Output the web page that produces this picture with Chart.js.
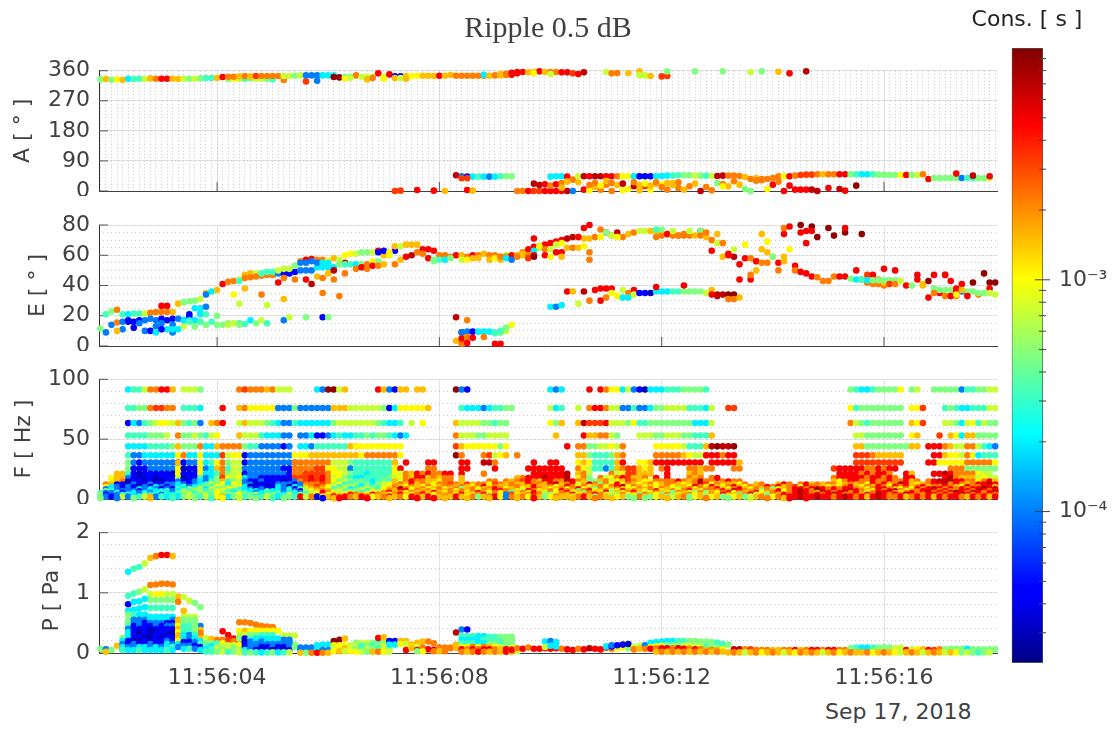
<!DOCTYPE html>
<html>
<head>
<meta charset="utf-8">
<title>Ripple 0.5 dB</title>
<script src="https://cdn.jsdelivr.net/npm/chart.js@4/dist/chart.umd.min.js"></script>
<style>
  body { margin: 0; background: #fff; overflow: hidden; }
  canvas { position: absolute; }
  #date { position: absolute; left: 825px; top: 699px; font: 22px "DejaVu Sans"; color: #404040; }
</style>
</head>
<body>
<canvas id="panelA" width="1003" height="196" style="left:0;top:0"></canvas>
<canvas id="panelE" width="1003" height="146" style="left:0;top:205px"></canvas>
<canvas id="panelF" width="1003" height="139" style="left:0;top:365px"></canvas>
<canvas id="panelP" width="1003" height="171" style="left:0;top:522px"></canvas>
<canvas id="colorbar" width="164" height="680" style="left:945px;top:0"></canvas>
<div id="date">Sep 17, 2018</div>
<script>
// sample times in seconds after 11:56:00, one column of dots per entry
const times = [1.9,2.0,2.1,2.2,2.3,2.4,2.5,2.6,2.7,2.8,2.9,3.0,3.1,3.2,3.3,3.4,3.5,3.6,3.7,3.8,3.9,4.0,4.1,4.2,4.3,4.4,4.5,4.6,4.7,4.8,4.9,5.0,5.1,5.2,5.3,5.4,5.5,5.6,5.7,5.8,5.9,6.0,6.1,6.2,6.3,6.4,6.5,6.6,6.7,6.8,6.9,7.0,7.1,7.2,7.3,7.4,7.5,7.6,7.7,7.8,7.9,8.0,8.1,8.2,8.3,8.4,8.5,8.6,8.7,8.8,8.9,9.0,9.1,9.2,9.3,9.4,9.5,9.6,9.7,9.8,9.9,10.0,10.1,10.2,10.3,10.4,10.5,10.6,10.7,10.8,10.9,11.0,11.1,11.2,11.3,11.4,11.5,11.6,11.7,11.8,11.9,12.0,12.1,12.2,12.3,12.4,12.5,12.6,12.7,12.8,12.9,13.0,13.1,13.2,13.3,13.4,13.5,13.6,13.7,13.8,13.9,14.0,14.1,14.2,14.3,14.4,14.5,14.6,14.7,14.8,14.9,15.0,15.1,15.2,15.3,15.4,15.5,15.6,15.7,15.8,15.9,16.0,16.1,16.2,16.3,16.4,16.5,16.6,16.7,16.8,16.9,17.0,17.1,17.2,17.3,17.4,17.5,17.6,17.7,17.8,17.9,18.0];
const xTicks = [4, 8, 12, 16];
const xTickLabels = ["11:56:04", "11:56:08", "11:56:12", "11:56:16"];

// Cons. in seconds
const consValues = {
  n: 3.0e-5, b: 4.6e-5, s: 1.0e-4, c: 2.0e-4, t: 3.2e-4, g: 4.7e-4, l: 7.2e-4,
  y: 1.04e-3, a: 1.5e-3, o: 2.2e-3, r: 3.3e-3, R: 4.8e-3, d: 6.9e-3, D: 8.9e-3
};
const consMin = 2.2e-5;
const consMax = 1e-2;
const consTicks = [3e-5,4e-5,5e-5,6e-5,7e-5,8e-5,9e-5,1e-4,2e-4,3e-4,4e-4,5e-4,6e-4,7e-4,8e-4,9e-4,1e-3,2e-3,3e-3,4e-3,5e-3,6e-3,7e-3,8e-3,9e-3];
const consTickLabels = { "0.001": "10⁻³", "0.0001": "10⁻⁴" };

// each track: [first column, one letter per dot (. = no dot), value or values]
const aTracks = [
  [0,"gagyacttlaoRRaalglgtta",[334,335,333,334,333,336,335,336,335,337,336,336,336,336,335,336,336,336,337,338,338,338]],
  [23,"gyltgllgt",[335,336,335,336,337,336,336,335,334]],
  [33,"o...r.s",[332,0,0,0,328,0,330]],
  [22,"Rooaoaroooollglsssccc",[341,342,342,343,344,343,344,344,344,344,344,344,344,345,346,346,346,346,346,346,346]],
  [42,"DDtgolllRlRbbayyaaaRaaoooooo",[341,340,341,342,346,342,342,342,352,342,349,343,343,344,344,345,345,345,344,345,345,347,345,345,345,345,345,345]],
  [44,"yl..ao.y.ala",[337,338,0,0,334,338,0,336,0,338,338,336]],
  [69,"caoaoRR",[348,345,346,346,347,348,352]],
  [72,"aoRRRaaRaooRRrRd",[350,351,354,356,356,355,356,358,356,356,356,355,355,352,350,355]],
  [76,"..y..l",[0,0,352,0,0,350]],
  [91,"lo",[356,352]],[93,"o",353],[95,"a",353],[97,"al",[358,345]],[97,"l",346],[98,"l",347],[99,"a",344],
  [101,"rr",[343,344]],[102,"g",358],[107,"g",358],[112,"g",358],[117,"l",355],[119,"g",358],[122,"a",357],[124,"R",352],[127,"d",358],
  [53,"rr",[0,1]],[57,"R",3],[60,"R",1],[62,"a",0],[66,"R",3],[67,"a",1],
  [64,"dsbctcsctgg",[47,44,43,43,43,43,43,43,44,44,44]],[65,"rr",[38,38]],
  [75,"ooRrrRRRRds",[0,0,0,0,0,0,0,0,0,0,0]],
  [78,"dd",[22,18]],[80,"Ro",[20,16]],[82,"Ro",[20,24]],[83,"a",10],
  [81,"ccc",[43,44,44]],[84,"Rol",[43,34,44]],[84,"a",28],[86,"a",26],
  [87,"dRddRRoyyccl",[44,44,44,44,44,44,44,44,44,44,44,44]],
  [97,"bbbcccttgglgtl",[44,44,44,44,45,46,46,47,47,47,46,46,46,45]],
  [111,"ddoooaoaooooyRorrroaooRRgtcctggggyRglo",[45,46,46,46,45,42,36,39,32,36,39,44,44,44,46,48,49,49,50,50,50,50,50,50,50,50,50,50,50,49,49,48,48,48,48,48,48,50,48]],
  [149,"Rgggggsttggl",[36,39,39,39,39,39,39,39,38,38,38,38]],
  [154,"R..d..R",[52,0,0,46,0,0,44]],
  [87,"Ryaooo.yydarya",[4,2,12,4,19,0,4,2,6,14,2,14,4,22]],
  [101,"yoaoaoadoogoa",[19,4,24,9,4,14,22,0,12,2,24,20,14]],[112,"y.oaggoo",[14,0,29,19,6,0,31,36]],
  [120,"yRoRRRRRdd",[6,19,28,0,16,4,4,4,4,0]],[131,"R.dR.D",[9,0,6,1,0,16]],
  [88,"ooyaoad.oa",[18,24,16,30,24,18,22,0,26,18]],[98,"yaooaao",[22,16,26,12,24,18,26]]
];

const eTracks = [
  [0,"gtgo",[11.5,21,23,24]],
  [1,"ssosb",[9,14,15.5,11,16]],
  [3,"a",10],[4,"s",16],
  [4,"tcttlooRRa",[21,21,21.5,21.5,21.5,22,22.5,26.5,26.5,22.5]],
  [5,"bbbsssbbbsbb",[17,16,17,17,18,17,18,17,18,18,17,19]],
  [6,"bssbsscsc",[12,15,10,10,13,15,11,14,11]],
  [10,"cb.s",[9,11,0,9]],
  [13,"c",11],[11,"o",22.5],[12,"o",22.5],
  [14,"aggglacaRoolaal",[28,29,29.6,30,31,35,36,37,41,42.4,43,44,47,48,48]],
  [15,"lblcg",[13,21,13,21,14]],[17,"cc",[25,25]],[19,"s",34],[18,"cs",[22,26]],
  [15,"ccc",[17,17,17]],[16,"t",16],[18,"g",16],[19,"t",21],
  [21,"g",20],
  [25,"toooooo",[43,45,45.5,46,46.5,47,47]],
  [29,"ttt",[48,49,49]],
  [32,"sbbbssscccc",[48,48,48,49,50,50,50,52,52,52,52]],
  [32,"lllg",[50,51,51,53]],[36,"oRRooy",[56,57,57.5,57,57,56.5]],
  [36,"sssscc",[55,55,56,55,55,55]],
  [21,"ggg",[14,14,15]],[17,"gtgt",[13,16,14,16]],[23,"lgt",[14,15,15]],
  [24,"lgtcgl",[15,14,14.5,17,15,17]],[30,"t",15],[33,"sl",[17,19]],[37,"g",19],[40,"bg",[19,19]],
  [24,"y",34],[26,"a",38],[29,"o",34],[25,"l",28],[30,"l",27],[33,"a",31],
  [32,"Ro.o.R",[42,45,0,44,0,44]],[38,"dao",[41,46,35]],[40,"oad",[45,48,50]],[42,"o",44],[43,"od",[33,55]],[44,"o",48],
  [42,"alyylgglRayb",[58,57,60,61,61,62,62,62,63,60,60,63]],
  [43,"gttcgoyg",[54,54,54,54,54,54,56,56]],
  [46,"oRoRoa",[51,52,51,53,53,54]],
  [50,"bbyalaaaRRR",[62,63,62,66,66,67,67,67,64,64,63]],
  [53,"oaRdooRg",[54,57,59,60,62,61,58,56]],
  [61,"oooRaoRoaoooyRoaoo",[60,60,59,60,60,59,60,60,61,60,60,59,60,59,60,60,60,60]],
  [60,"gtcg.lyaa.ayal",[57,57,57,58,0,57,57,58,58,0,57,58,57,60]],
  [72,"ooRaoRRRRRRRddaa",[59,59,60,60,62,64,65.6,66,67,68,69,70,71,72,72,71]],
  [73,"csoaocg",[58,57,59,61,60,63,65]],[77,"rRyolly",[58,60,66,64,64,67,68]],
  [78,"D",59],[80,"R",60],[81,"yR",[59,62]],[83,"R",62],[84,"aoay",[65,65,65,66]],[78,"R",71],[83,"a",59],
  [87,"RR",[78,80]],[88,"o",62],[88,"o",57],[86,"R",72],
  [88,"aoy",[71,72,72]],[90,"oRodoao",[77,75,73,75,72,74,75]],[91,"gly",[75,73,72]],
  [97,"llaaaoRoo",[76,76,76,76,74,74,74,73,74]],[100,"ooRooooaD",[72,73,74,73,73,73,73,73,76]],[100,"tg.l..l.g",[77,77,0,76,0,0,76,0,76]],
  [108,"oa",[73,72]],[109,"o",75],[110,"ol",[70,68]],[110,"R",63],[111,"aoR",[74,68,61]],[112,"a",59],[113,"Rl",[60,64]],
  [114,"dR",[59,44]],[115,"RyR",[54,67,44]],[116,"Roa",[58,47,56]],[117,"oaay",[58,50,64,69]],[118,"Ra",[56,74]],
  [119,"oa",[55,62]],[120,"oa",[55,59]],[121,"goR",[59,50,74]],[122,"Ro",[55,78]],[123,"aR",[59,79]],[123,"a",56],
  [124,"yR",[64,53]],[125,"oR",[50,75]],[126,"RR",[49,68]],[126,"D",80],[127,"RD",[48,79]],[127,"R",76],[128,"RD",[46,72]],[128,"R",76],
  [129,"o",45.5],[130,"oD",[43,78]],[131,"oD",[43,73]],[132,"o",46],[133,"RD",[46,75]],[134,"R",46],[134,"R",78],
  [135,"gRoo",[44.5,50,44,42]],[136,"cDoo",[44,74,42,41]],[137,"troo",[44,47,42,41]],[138,"cRoo",[43.5,47,41,40]],[139,"goaa",[43.5,44,42,41]],
  [140,"gggg",[43.5,43.5,43.5,43.5]],[141,"Rro",[51,41,41]],[143,"R",50],[144,"l",43],[145,"R",40],[146,"gR",[40,44]],[147,"Ra",[47,41]],
  [148,"aD",[40,43]],[149,"RR",[32,47]],[150,"gRo",[38,35,47]],[151,"gRo",[37,47,33]],[152,"gR",[37,43]],[153,"gR",[37,38]],[154,"oR",[33,41]],
  [155,"sR",[36,35]],[156,"gD",[36,42]],[157,"go",[36,34]],[158,"gDD",[35,48,42]],[159,"gR",[35,38]],[160,"lD",[35,42]],[161,"ll",[34,35]],
  [150,"o.oRR",[35,0,33,33,36]],[154,"yaR",[34,37,33]],
  [64,"dDo",[19,9,17]],[65,"ssbcccct",[9,9.5,9.5,9.5,9.5,9.5,9,9]],[71,"tgly",[8.5,9,10,14]],[73,"g",12],[72,"t",10],
  [64,"ao",[3.5,1.5]],[65,"Ro",[5,6]],[66,"RR",[2,5.5]],[69,"o",6],[71,"RR",[1.5,1.5]],
  [81,"csc",[26,26,27]],[84,"Ra",[36,36]],[86,"l",28],[87,"d",36],[88,"oRRRR",[30,37,38,38,38]],[90,"R",30],[91,"o",32],
  [92,"yl",[35,33]],[93,"yl",[33,37]],[94,"co",[32,35]],[95,"cR",[32,37]],[96,"l",34],[97,"bbn",[35,35,35]],
  [100,"cccttggggl",[36,36,36,36,36,36,36,36,36,35]],[100,"R",39],[105,"R",40],[110,"ad",[37,34]],[110,"R",34],[111,"ddD",[33,34,34]],[114,"D",34],[113,"oo",[31,31]],[115,"a",32]
];

const fLevels = [91.5,76,63.5,53,44,36.5,30.5,25.5,21,17.5,14.5,12,10,8,6.5,5,3.5,2,0.7];
const fRows = [
  [[5,"cttlooRRa"],[15,"lllg"],[25,"oroooao"],[32,"lll"],[39,"csDDla"],[50,"Rasbaa"],[57,"aa"],[64,"Dsb"],[81,"csc"],[88,"R"],[90,"Royyclsbnccctt"],[104,"tggggt"],[135,"gtcctggggy"],[146,"gl"],[150,"gggggsttggll"]],
  [[5,"ttgg"],[9,"orroo"],[15,"tttc"],[22,"R"],[25,"aoyyyyy"],[32,"sssg"],[36,"ssssss"],[42,"aaal"],[46,"lllllg"],[52,"bcyyyyya"],[65,"tccc"],[69,"sctt"],[73,"gg"],[81,"lct"],[86,"l"],[88,"oRRoll"],[94,"sstsscgg"],[102,"lllltttcl"],[113,"rr"],[135,"ytgggggggg"],[146,"yyr"],[152,"tgtcctttll"]],
  [[5,"bcstglyyla"],[15,"gtgs"],[20,"aoR"],[25,"lalllgtc"],[33,"sstc"],[37,"cccccg"],[43,"lllllllgtcc"],[54,"t"],[56,"l"],[58,"y"],[64,"allllgg"],[71,"tgg"],[81,"yga"],[86,"adrrrR"],[92,"lll"],[95,"gytt"],[99,"gggggggg"],[107,"ccc"],[110,"l"],[135,"olgtgggggg"],[146,"ayr"],[152,"llgclytlgg"]],
  [[5,"ttttgggl"],[14,"oggl"],[18,"gtly"],[25,"allltcc"],[32,"css"],[36,"sscbbsct"],[44,"ccttgtgg"],[52,"tcsc"],[64,"olllggl"],[71,"lll"],[82,"a"],[87,"Raaoolg"],[97,"lll"],[100,"gglllggttt"],[110,"a"],[136,"llggggggg"],[146,"ya"],[151,"r"],[153,"aycaaggg"],[161,"g"]],
  [[5,"cccc"],[9,"ttttg"],[14,"agg"],[17,"go"],[19,"cca"],[22,"ooo"],[25,"ogttsss"],[32,"sbs"],[36,"ccstttt"],[43,"ttao"],[46,"yyyyyyyyy"],[64,"rayyyyyy"],[72,"gy"],[84,"R"],[86,"oogglly"],[93,"lo"],[100,"yyyyylttta"],[110,"dDddD"],[136,"aaggggggggg"],[146,"aa"],[149,"RRRoallooltcst"]],
  [[5,"tsscccccc"],[14,"yoc"],[17,"cy"],[19,"ccc"],[22,"rlyy"],[26,"bsssssss"],[34,"s"],[35,"yyyaaaaaaaa"],[46,"ayoooooo"],[54,"y"],[64,"Do"],[69,"or"],[71,"lya"],[75,"o"],[86,"aagtttga"],[94,"o"],[100,"oooooaylla"],[109,"RRRoRR"],[136,"rrroaaaaa"],[150,"RRayyl"],[156,"oyctttc"]],
  [[5,"gsbsss"],[11,"sssb"],[14,"abss"],[18,"yct"],[21,"y"],[22,"ogll"],[26,"bssssss"],[33,"sss"],[35,"ooooooo"],[42,"lllgtttttttt"],[53,"a"],[55,"R"],[59,"RR"],[65,"RR"],[69,"dd"],[71,"o"],[78,"R"],[81,"RR"],[86,"yaytttt"],[93,"aR"],[97,"yya"],[100,"RRRRRRRR"],[108,"R"],[110,"RRRRRa"],[136,"rrrrrrrrr"],[149,"RR"],[151,"yyyyyoooooyy"]],
  [[5,"gbbbssssss"],[14,"ynbbys"],[20,"cao"],[23,"tll"],[26,"sssssssbb"],[35,"oooorry"],[42,"yllsttttttt"],[53,"yR"],[59,"oo"],[65,"RR"],[71,"R"],[77,"RRRRRRR"],[86,"oylttst"],[93,"ao"],[95,"rray"],[99,"a"],[101,"oR"],[106,"ooao"],[110,"o"],[114,"oo"],[132,"rRRRRRooRoRR"],[153,"ooo"],[156,"gggggg"]],
  [[3,"aa"],[5,"tbnbbbbbn"],[14,"y"],[15,"bbb"],[18,"y"],[19,"cct"],[22,"o"],[23,"gll"],[26,"bsssssssb"],[35,"oorrrro"],[42,"yyl"],[45,"gttctttt"],[53,"yl"],[55,"oaRoRo"],[61,"oRR"],[65,"R"],[69,"o"],[78,"RRRRRRd"],[86,"aol"],[92,"oly"],[95,"rraaa"],[102,"R"],[106,"aoa"],[133,"RRRRoRoRRo"],[145,"Ra"],[150,"RRdRooooyll"]],
  [[2,"yaa"],[5,"sbnbbnbbb"],[14,"l"],[15,"nbb"],[18,"t"],[19,"scg"],[22,"r"],[23,"yly"],[26,"cssbbbbbb"],[35,"rrrRrRo"],[42,"lyg"],[45,"tccttttg"],[53,"ly"],[55,"oaR"],[58,"Ra"],[60,"oa"],[62,"oo"],[65,"a"],[75,"a"],[76,"oRRRdRRRd"],[86,"yog"],[90,"oly"],[93,"oR"],[95,"raao"],[100,"R"],[102,"R"],[106,"oao"],[110,"oR"],[132,"oRRRRRoR"],[140,"RoRo"],[145,"RR"],[152,"Rdo"],[155,"aaa"],[158,"lyl"],[161,"l"]],
  [[2,"yao"],[5,"nbbnbnnbb"],[14,"s"],[15,"bbs"],[18,"c"],[19,"stg"],[22,"a"],[23,"tgl"],[26,"sbbsbbbnb"],[35,"sorRrRo"],[42,"ygl"],[45,"gtgtctgt"],[53,"al"],[55,"oRo"],[58,"oa"],[60,"ayo"],[63,"o"],[65,"a"],[70,"oo"],[73,"oao"],[76,"rRoaRRoo"],[84,"dR"],[86,"oag"],[89,"gao"],[92,"lya"],[95,"roay"],[99,"yoo"],[102,"ooRo"],[106,"aod"],[109,"oo"],[112,"oR"],[114,"oo"],[132,"ayoRRooRooRoo"],[145,"Rao"],[149,"oRdddRR"],[156,"ooyoRa"]],
  [[1,"oa"],[3,"bb"],[5,"nsbbsbbss"],[14,"c"],[15,"sbs"],[18,"c"],[19,"tlg"],[22,"y"],[23,"cyl"],[26,"ssnbbbsss"],[35,"bsoooro"],[42,"lyt"],[45,"tgtgcgly"],[53,"ao"],[55,"aRao"],[59,"ayo"],[62,"oro"],[65,"ar"],[67,"ao"],[69,"oy"],[71,"roao"],[75,"aaRooa"],[81,"Rda"],[84,"oRl"],[87,"aRo"],[90,"goy"],[93,"Ryo"],[96,"ayao"],[100,"yao"],[103,"oay"],[106,"aodr"],[110,"yoaa"],[114,"ayo"],[118,"ao"],[122,"aRo"],[126,"oRao"],[130,"aoo"],[133,"yaoa"],[137,"oyRoRao"],[144,"d"],[145,"Ray"],[148,"aoR"],[151,"Rdo"],[154,"Roao"],[158,"RRdR"]],
  [[1,"yc"],[3,"sb"],[5,"sbnsbcsbs"],[14,"c"],[15,"tsc"],[18,"t"],[19,"gty"],[22,"l"],[23,"tly"],[26,"cnbbnbcs"],[34,"n"],[35,"csaoro"],[41,"y"],[42,"ltg"],[45,"lgcgtgly"],[53,"oa"],[55,"yo"],[57,"ayo"],[60,"yao"],[63,"oao"],[66,"ay"],[68,"oR"],[70,"yoa"],[73,"ao"],[75,"oaaRa"],[80,"ao"],[82,"ya"],[84,"Ro"],[86,"yol"],[89,"ao"],[91,"yoRdy"],[96,"oay"],[99,"aya"],[102,"oya"],[105,"ayR"],[108,"oyR"],[111,"ayo"],[114,"Ra"],[116,"yoa"],[119,"oRo"],[122,"Rao"],[125,"ryRo"],[129,"oay"],[132,"ayo"],[135,"Ray"],[138,"oa"],[140,"RoyR"],[144,"oRao"],[148,"Rao"],[151,"oRo"],[154,"ayRo"],[158,"oRRa"]],
  [[1,"s"],[2,"cs"],[4,"bs"],[6,"bcscsbsb"],[14,"t"],[15,"cgt"],[18,"l"],[19,"clg"],[22,"g"],[23,"ylt"],[26,"csbsbncs"],[34,"c"],[35,"btlaoay"],[42,"tgl"],[45,"ctglgtya"],[53,"oD"],[55,"oya"],[58,"oy"],[60,"aoy"],[63,"ao"],[65,"gaoy"],[69,"aoRo"],[73,"ya"],[75,"oyaR"],[79,"oay"],[82,"ao"],[84,"y"],[85,"oRy"],[88,"ag"],[90,"oya"],[93,"oay"],[96,"yo"],[98,"aoy"],[101,"oay"],[104,"lao"],[107,"yoa"],[110,"oR"],[112,"ayo"],[115,"Ray"],[118,"oao"],[121,"g"],[122,"yaoR"],[126,"RoR"],[129,"dR"],[131,"oRo"],[134,"RRo"],[137,"ay"],[139,"oRRo"],[143,"ayo"],[146,"yRo"],[149,"RdR"],[152,"oRoR"],[156,"oRR"],[159,"DRd"]],
  [[1,"g"],[2,"ts"],[4,"ss"],[6,"sbscccts"],[14,"c"],[15,"gtl"],[18,"g"],[19,"tgl"],[22,"y"],[23,"gtt"],[26,"cccstccs"],[34,"t"],[35,"sblyao"],[41,"a"],[42,"glg"],[45,"tgltlgyo"],[53,"aR"],[55,"Ryo"],[58,"aoy"],[61,"oao"],[64,"yo"],[66,"aoy"],[69,"oaRR"],[73,"oay"],[76,"lRo"],[79,"yao"],[82,"yRo"],[85,"ag"],[87,"oRy"],[90,"aol"],[93,"yRa"],[96,"oay"],[99,"oRy"],[102,"aoy"],[105,"oRa"],[108,"yo"],[110,"ooRa"],[114,"dRo"],[117,"ao"],[119,"goaR"],[123,"yoR"],[126,"dRo"],[129,"DRo"],[132,"RoR"],[135,"dRo"],[138,"ayR"],[141,"oRd"],[144,"oya"],[147,"oR"],[149,"RRo"],[152,"Roo"],[155,"RRo"],[158,"dRoR"]],
  [[0,"t"],[1,"s"],[2,"st"],[4,"b"],[5,"scscsctc"],[13,"s"],[14,"t"],[15,"lgt"],[18,"l"],[19,"tgy"],[22,"l"],[23,"tcg"],[26,"tcsctcts"],[34,"c"],[35,"tsglyR"],[41,"o"],[42,"ylg"],[45,"ygtgyloR"],[53,"ao"],[55,"yoa"],[58,"oaR"],[61,"ay"],[63,"oao"],[66,"yoR"],[69,"ay"],[71,"oyo"],[74,"tao"],[77,"y"],[78,"Ra"],[80,"loy"],[83,"oR"],[85,"yag"],[88,"oa"],[90,"yRg"],[93,"ay"],[95,"oRa"],[98,"lyo"],[101,"ayg"],[104,"oay"],[107,"go"],[109,"gay"],[112,"oR"],[114,"yoa"],[117,"oRy"],[120,"ao"],[122,"Ry"],[124,"oRd"],[127,"Roa"],[130,"dR"],[132,"oRd"],[135,"oRo"],[138,"yoR"],[141,"Rdo"],[144,"yoR"],[147,"o"],[148,"Rdo"],[151,"RoR"],[154,"DRo"],[157,"dRo"],[160,"Rd"]],
  [[0,"g"],[1,"b"],[2,"ss"],[4,"c"],[5,"tcstctst"],[13,"c"],[14,"tgl"],[17,"t"],[18,"g"],[19,"lty"],[22,"g"],[23,"lgy"],[26,"gtlctgtc"],[34,"l"],[35,"cgtlyR"],[41,"y"],[42,"a"],[43,"lyR"],[46,"oay"],[49,"Roa"],[52,"yoR"],[55,"ayo"],[58,"Ra"],[60,"yoa"],[63,"oy"],[65,"Ray"],[68,"oR"],[70,"lo"],[72,"ysr"],[75,"yao"],[78,"Ro"],[80,"lgy"],[83,"oa"],[85,"Ry"],[87,"ao"],[89,"Ro"],[91,"ly"],[93,"go"],[95,"yag"],[98,"oa"],[100,"ygo"],[103,"gy"],[105,"ao"],[107,"ya"],[109,"lo"],[111,"yRo"],[114,"ag"],[116,"oRl"],[119,"yg"],[121,"oa"],[123,"Ro"],[125,"Rd"],[127,"RoR"],[130,"oR"],[132,"dRo"],[135,"oRa"],[138,"Ro"],[140,"dRo"],[143,"Ro"],[145,"dR"],[147,"ooR"],[150,"RoR"],[153,"oRd"],[156,"RoR"],[159,"oRo"]],
  [[0,"g"],[1,"sb"],[3,"sl"],[5,"sctl"],[9,"a"],[10,"stc"],[13,"t"],[14,"cgl"],[17,"g"],[18,"t"],[19,"lg"],[21,"ya"],[23,"cg"],[25,"l"],[26,"tg"],[28,"ct"],[30,"lgc"],[33,"t"],[34,"g"],[35,"tR"],[37,"lo"],[39,"b"],[40,"ya"],[42,"R"],[43,"oR"],[45,"oa"],[47,"Ro"],[49,"ya"],[51,"oR"],[53,"ao"],[55,"yR"],[57,"oa"],[59,"R"],[60,"ya"],[62,"oa"],[64,"Ra"],[66,"yo"],[68,"ga"],[70,"oR"],[72,"ys"],[74,"oa"],[76,"oy"],[78,"ra"],[80,"gy"],[82,"oa"],[84,"ay"],[86,"oR"],[88,"ag"],[90,"oa"],[92,"gy"],[94,"ag"],[96,"yo"],[98,"ag"],[100,"ya"],[102,"gl"],[104,"ao"],[106,"gy"],[108,"ag"],[110,"ya"],[112,"gl"],[114,"ya"],[116,"gl"],[118,"ao"],[120,"gy"],[122,"oR"],[124,"RR"],[126,"dR"],[128,"Rd"],[130,"RR"],[132,"oR"],[134,"dR"],[136,"oR"],[138,"aR"],[140,"dR"],[142,"oo"],[144,"Ra"],[146,"oR"],[148,"oR"],[150,"aR"],[152,"oR"],[154,"Ro"],[156,"aR"],[158,"oR"],[160,"aR"]],
  [[0,"g"],[3,"s"],[6,"g"],[9,"a"],[13,"t"],[17,"g"],[20,"t"],[22,"y"],[25,"l"],[28,"g"],[31,"t"],[33,"g"],[40,"b"],[42,"a"],[43,"R"],[48,"R"],[52,"a"],[57,"R"],[60,"R"],[62,"a"],[66,"a"],[70,"a"],[75,"a"],[78,"R"],[82,"a"],[85,"a"],[89,"o"],[92,"a"],[96,"g"],[98,"g"],[102,"a"],[106,"g"],[109,"o"],[113,"g"],[117,"l"],[120,"o"],[123,"a"],[124,"R"],[127,"R"]]
];

const pTracks = [
  [0,"gs",[.07,.06]],[1,"a",.02],[2,"g",.05],[3,"as",[.12,.06]],[4,"gab",[.25,.15,.08]],
  [5,"cttlaoRRa",[1.35,1.4,1.43,1.49,1.58,1.61,1.63,1.63,1.61]],
  [5,"ttglooooo",[.95,.99,1.02,1.06,1.13,1.14,1.15,1.15,1.14]],
  [14,"allgg",[.94,.93,.87,.83,.76]],
  [9,"lyyll",.98],[9,"ggggg",.88],[9,"ttttt",.75],
  [5,"bccc",[.81,.85,.86,.9]],[5,"cccc",[.7,.72,.74,.76]],
  [14,"oa",[.85,.7]],
  [5,"gtcc",.64],[9,"ccccc",.6],
  [5,"gsssccccs",.55],[5,"gssbsssbb",.5],[5,"tbsbbsbss",.45],[5,"sbbbnbbbb",.4],[5,"cbnbnnbbn",.35],[5,"cbnbnbbnn",.3],[5,"cbbnnbnbb",.25],
  [4,"cbnnbnbbsb",.2],[4,"sbsbbsbbcs",.15],[4,"cssccscsct",.1],[4,"tcctcccctc",.05],
  [14,"a",.55],[15,"lll",.6],[14,"a",.5],[15,"ggg",.55],[14,"y",.45],[15,"ggg",.5],[18,"s",.45],[14,"a",.4],[15,"ttg",.45],[18,"a",.38],
  [14,"y",.35],[15,"ttg",.4],[18,"o",.33],[14,"a",.3],[15,"ttg",.35],[18,"o",.28],[14,"a",.25],[15,"cst",.3],[18,"a",.24],[14,"y",.2],[15,"csc",.25],[18,"c",.2],
  [14,"c",.15],[15,"bbs",.18],[18,"t",.15],[14,"s",.1],[15,"ssb",.12],[18,"b",.1],[15,"cts",.07],[18,"c",.05],
  [19,"laoo",[.25,.23,.22,.22]],[22,"RRR",[.36,.3,.24]],[23,"roo",[.21,.2,.2]],
  [19,"ggty",.16],[19,"tcgl",.11],[23,"lly",.13],[19,"ctlg",.06],[23,"lgl",.07],[19,"ttgl",.02],[23,"tgg",.02],
  [25,"ooooooo",[.51,.51,.5,.47,.45,.44,.43]],
  [25,"yayyyyyy",.37],[33,"lll",.29],[25,"llggttt",.3],
  [25,"gbtccccc",.24],[33,"ss",.22],[26,"nscscccss",.19],[35,"g",.14],[26,"bsssssss",.15],[34,"s",.16],
  [26,"bssbbsbbs",.1],[26,"csbnbnbnb",.05],[25,"ltgtctgctl",.01],[35,"gg",[.1,.05]],
  [36,"sssccc",[.09,.09,.09,.13,.14,.14]],[36,"ssscss",.05],[36,"agoRoa",.005],
  [42,"DDa",[.2,.22,.24]],[42,"yyyl",.13],[42,"lyal",.08],[42,"yaly",.03],
  [46,"gllgtgg",.17],[46,"ltgtgll",.12],[46,"gtlgtlg",.07],[46,"ylgaoyl",.02],
  [50,"Ra",[.25,.26]],[52,"bb",.2],[54,"aa",.2],[52,"cc",.14],[54,"yl",.15],
  [56,"aaaoo",[.14,.17,.19,.19,.16]],[56,"yl",.1],[55,"RaRoRdRRooa",[.05,.08,.05,.09,.06,.05,.07,.07,.08,.09,.08]],
  [61,"ooo",.09],[57,"gy",.03],[60,"oao",.03],
  [64,"d",.34],[65,"sb",.39],[65,"tttcc",.28],[70,"ttggg",.27],[75,"l",.03],
  [65,"cccct",.22],[70,"ttggg",.21],[64,"a",.14],[65,"tttcc",.16],[70,"gglgg",.15],
  [64,"ao",[.1,.07]],[65,"yyoyo",.1],[70,"aylgl",.1],[65,"RoRoR",.06],[70,"RoaRo",.06],[65,"oaoRo",.02],[70,"aoaRa",.02],
  [72,"tg",[.2,.2]],[74,"RoRoRRRRRoRR",[.05,.08,.07,.09,.07,.07,.08,.07,.08,.07,.06,.05]],
  [80,"csc",[.19,.2,.18]],[80,"lcc",[.1,.12,.11]],[86,"oRdRRRoyyg",[.07,.06,.08,.07,.06,.09,.07,.08,.09,.08]],
  [91,"cb",[.11,.11]],[92,"sbbn",[.13,.13,.14,.15]],[96,"lls",[.1,.12,.13]],
  [99,"cccccttgggggttg",[.17,.18,.19,.2,.2,.2,.2,.2,.2,.19,.19,.18,.17,.15,.14]],
  [99,"yyyggglllltggt",[.1,.11,.12,.13,.13,.13,.12,.12,.11,.11,.1,.09,.09,.08]],
  [96,"oaoRoRRoRRoRoaoay",[.06,.07,.07,.07,.08,.08,.08,.08,.08,.07,.07,.06,.06,.05,.05,.05,.06]],
  [114,"ddoroooaaooRaoRR",[.06,.06,.06,.06,.05,.05,.05,.05,.05,.05,.05,.05,.05,.05,.05,.05]],
  [130,"oRRoooRRoo",[.05,.05,.05,.05,.05,.05,.05,.05,.05,.05]],
  [135,"gtcctgggll",[.08,.09,.09,.09,.09,.09,.09,.09,.08,.09]],[145,"Rlya",[.05,.06,.06,.06]],[149,"Rro",[.05,.05,.06]],
  [152,"ggggcgggggl",[.06,.07,.07,.07,.07,.06,.06,.06,.06,.06,.05]],
  [100,"aoaoaoaoaoaoa",.02],[113,"aoalaoyaoalay",.01],[126,"oaoalaoyaoa",.01],[137,"aoyaoaylaoal",.01],[149,"aoalayglgtgl",.01]
];

const jetStops = [
  [0, "#000080"], [0.11, "#0000ff"], [0.125, "#0000ff"], [0.375, "#00ffff"],
  [0.5, "#80ff80"], [0.625, "#ffff00"], [0.875, "#ff0000"], [1, "#800000"]
];

const textColor = "#404040";
const axisFont = { family: "DejaVu Sans", size: 22 };

function hexToRgb(hex) {
  return [1, 3, 5].map((i) => parseInt(hex.substr(i, 2), 16));
}

function consColor(cons) {
  const p = (Math.log10(cons) - Math.log10(consMin)) / (Math.log10(consMax) - Math.log10(consMin));
  for (let i = 1; i < jetStops.length; i++) {
    if (p <= jetStops[i][0]) {
      const a = jetStops[i - 1];
      const b = jetStops[i];
      const f = (p - a[0]) / (b[0] - a[0]);
      const ca = hexToRgb(a[1]);
      const cb = hexToRgb(b[1]);
      return `rgb(${ca.map((v, k) => Math.round(v + (cb[k] - v) * f)).join(",")})`;
    }
  }
  return jetStops[jetStops.length - 1][1];
}

function tracksToPoints(tracks) {
  const points = [];
  tracks.forEach(([start, letters, y]) => {
    [...letters].forEach((letter, i) => {
      if (letter === "." || !consValues[letter]) return;
      points.push({
        x: times[start + i],
        y: Array.isArray(y) ? y[i] : y,
        cons: consValues[letter],
      });
    });
  });
  return points;
}

function rowsToTracks(levels, rows) {
  const tracks = [];
  rows.forEach((segments, r) => {
    segments.forEach(([start, letters]) => tracks.push([start, letters, levels[r]]));
  });
  return tracks;
}

// tick labels must not push the plot box around
function noScalePadding(s) {
  s.paddingTop = 0;
  s.paddingBottom = 0;
  s.paddingLeft = 0;
  s.paddingRight = 0;
}

// matlab style ticks that point into the plot
const innerTicks = {
  id: "innerTicks",
  beforeDatasetsDraw(chart) {
    const { ctx, chartArea, scales } = chart;
    ctx.save();
    ctx.strokeStyle = "#555";
    ctx.lineWidth = 1;
    scales.y.ticks.forEach((t) => {
      const py = scales.y.getPixelForValue(t.value);
      ctx.beginPath();
      ctx.moveTo(chartArea.left, py);
      ctx.lineTo(chartArea.left + 9, py);
      ctx.stroke();
    });
    scales.x.ticks.forEach((t) => {
      const px = scales.x.getPixelForValue(t.value);
      ctx.beginPath();
      ctx.moveTo(px, chartArea.bottom);
      ctx.lineTo(px, chartArea.bottom - 9);
      ctx.stroke();
    });
    ctx.restore();
  },
};

function makePanel(id, opts) {
  const points = tracksToPoints(opts.tracks);
  const scales = {
    x: {
      type: "linear",
      min: 1.875,
      max: 18.033,
      afterBuildTicks(s) { s.ticks = xTicks.map((value) => ({ value })); },
      afterFit(s) { s.height = opts.xHeight || 0; noScalePadding(s); },
      grid: { color: "#e4e4e4", drawTicks: false },
      border: { color: "#404040" },
      ticks: {
        display: !!opts.xHeight,
        maxRotation: 0,
        padding: 12,
        color: textColor,
        font: axisFont,
        callback: (v) => xTickLabels[xTicks.indexOf(v)],
      },
    },
    y: {
      min: opts.yMin,
      max: opts.yMax,
      afterBuildTicks(s) { s.ticks = opts.yTicks.map((value) => ({ value })); },
      afterFit(s) { s.width = 99; noScalePadding(s); },
      grid: { color: "#e4e4e4", drawTicks: false },
      border: { color: "#303030" },
      ticks: { padding: 9, color: textColor, font: axisFont, autoSkip: false },
      title: {
        display: true,
        text: opts.label,
        color: textColor,
        font: { family: "DejaVu Sans", size: 22 },
        padding: { top: opts.labelLeft, bottom: 0 },
      },
    },
    yMinor: {
      axis: "y",
      position: "left",
      min: opts.yMin,
      max: opts.yMax,
      afterFit(s) { s.width = 0; noScalePadding(s); },
      ticks: { display: false, stepSize: opts.yMinorStep },
      grid: { color: "#cccccc", drawTicks: false, lineWidth: 1 },
      border: { display: false, dash: [1, 3] },
    },
  };
  if (opts.xMinorStep) {
    // panel A only: columns of dots, the dash period gives the rows
    scales.xMinor = {
      type: "linear",
      axis: "x",
      position: "bottom",
      min: 1.875,
      max: 18.033,
      afterFit(s) { s.height = 0; noScalePadding(s); },
      ticks: { display: false, stepSize: opts.xMinorStep, includeBounds: false },
      grid: { color: "#c8c8c8", drawTicks: false, lineWidth: 1 },
      border: { display: false, dash: [1, 2.33] },
    };
  }
  return new Chart(document.getElementById(id), {
    type: "scatter",
    data: {
      datasets: [{
        data: points,
        showLine: false,
        clip: false,
        pointRadius: 3.3,
        pointBorderWidth: 0,
        pointBackgroundColor: points.map((p) => consColor(p.cons)),
      }],
    },
    options: {
      responsive: false,
      animation: false,
      events: [],
      layout: { padding: { top: opts.padTop, bottom: opts.xHeight ? 0 : 5, right: 6, left: 0 } },
      scales,
      plugins: {
        legend: { display: false },
        tooltip: { enabled: false },
        title: opts.title || { display: false },
      },
    },
    plugins: [innerTicks],
  });
}

makePanel("panelA", {
  tracks: aTracks, yMin: 0, yMax: 360, yTicks: [0, 90, 180, 270, 360], yMinorStep: 90, xMinorStep: 0.1,
  label: "A [ ° ]", labelLeft: 10, padTop: 0,
  title: {
    display: true,
    text: "Ripple 0.5 dB",
    fullSize: false,
    color: textColor,
    font: { family: "Liberation Serif", size: 30, weight: "normal" },
    padding: { top: 11, bottom: 23.7 },
  },
});
makePanel("panelE", {
  tracks: eTracks, yMin: 0, yMax: 80, yTicks: [0, 20, 40, 60, 80], yMinorStep: 5,
  label: "E [ ° ]", labelLeft: 25, padTop: 20,
});
makePanel("panelF", {
  tracks: rowsToTracks(fLevels, fRows), yMin: 0, yMax: 100, yTicks: [0, 50, 100], yMinorStep: 10,
  label: "F [ Hz ]", labelLeft: 11, padTop: 14.3,
});
makePanel("panelP", {
  tracks: pTracks, yMin: 0, yMax: 2, yTicks: [0, 1, 2], yMinorStep: 0.2,
  label: "P [ Pa ]", labelLeft: 39, padTop: 10.7, xHeight: 40,
});

new Chart(document.getElementById("colorbar"), {
  type: "bar",
  data: {
    labels: ["Cons."],
    datasets: [{
      data: [[consMin, consMax]],
      barPercentage: 1,
      categoryPercentage: 1,
      borderColor: "#505050",
      borderWidth: 1,
      borderSkipped: false,
      backgroundColor(context) {
        const area = context.chart.chartArea;
        if (!area) return jetStops[0][1];
        const g = context.chart.ctx.createLinearGradient(0, area.bottom, 0, area.top);
        jetStops.forEach(([stop, color]) => g.addColorStop(stop, color));
        return g;
      },
    }],
  },
  options: {
    responsive: false,
    animation: false,
    events: [],
    layout: { padding: { top: 0, bottom: 16 } },
    scales: {
      x: { display: false },
      spacer: {
        axis: "y",
        position: "left",
        afterFit(s) { s.width = 66.7; noScalePadding(s); },
        grid: { display: false },
        border: { display: false },
        ticks: { display: false },
      },
      y: {
        type: "logarithmic",
        position: "right",
        min: consMin,
        max: consMax,
        afterBuildTicks(s) { s.ticks = consTicks.map((value) => ({ value })); },
        afterFit(s) { s.width = 66; noScalePadding(s); },
        grid: { display: false },
        border: { display: false },
        ticks: {
          autoSkip: false,
          padding: 8,
          color: textColor,
          font: axisFont,
          callback: (v) => consTickLabels[String(v)] || "",
        },
      },
    },
    plugins: {
      legend: { display: false },
      tooltip: { enabled: false },
      title: {
        display: true,
        text: "Cons. [ s ]",
        color: "#222",
        font: { family: "DejaVu Sans", size: 22, weight: "normal" },
        padding: { top: 7, bottom: 14.6 },
      },
    },
  },
  plugins: [{
    id: "colorbarTicks",
    afterDatasetsDraw(chart) {
      const { ctx, chartArea, scales } = chart;
      ctx.save();
      ctx.strokeStyle = "#404040";
      consTicks.forEach((value) => {
        const py = scales.y.getPixelForValue(value);
        const major = consTickLabels[String(value)];
        ctx.beginPath();
        ctx.moveTo(chartArea.right - (major ? 8 : 4), py);
        ctx.lineTo(chartArea.right + (major ? 7 : 3), py);
        ctx.stroke();
      });
      ctx.restore();
    },
  }],
});
</script>
</body>
</html>
